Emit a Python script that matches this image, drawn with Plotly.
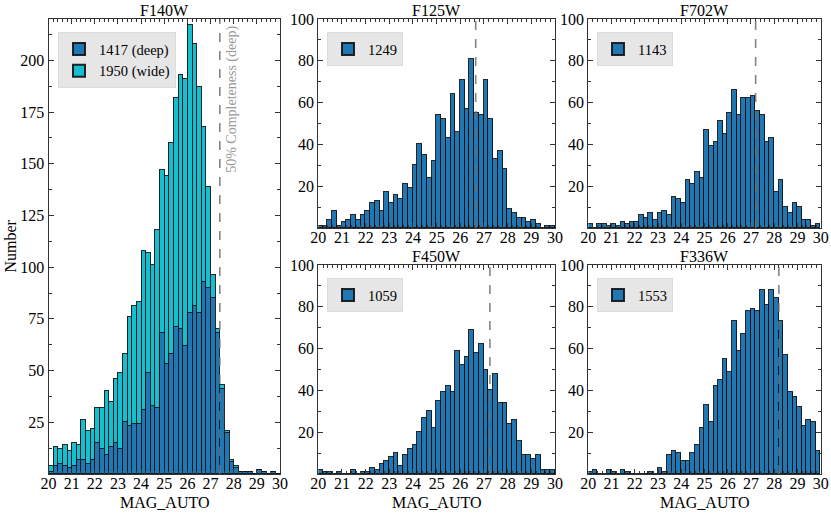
import plotly.graph_objects as go

# ---------------- data ----------------
BIN_START = 20.0
BIN_WIDTH = 0.2

f140w_deep = [1, 4, 5, 4, 3, 4, 7, 7, 5, 7,
              15, 12, 9, 13, 15, 12, 25, 23, 24, 24,
              31, 49, 33, 32, 68, 53, 58, 71, 70, 62,
              78, 81, 78, 93, 90, 85, 68, 41, 20, 6,
              3, 1, 1, 1, 0, 2, 1, 0, 1, 0]
f140w_wide = [3, 9, 7, 10, 8, 11, 7, 19, 16, 15,
              17, 20, 31, 22, 31, 37, 33, 53, 57, 59,
              77, 58, 68, 86, 79, 91, 102, 111, 123, 129,
              139, 127, 109, 75, 49, 11, 2, 2, 1, 1,
              1, 0, 0, 0, 0, 0, 0, 0, 0, 0]
f125w = [1, 1, 4, 8, 1, 3, 4, 6, 4, 6,
         8, 12, 13, 8, 17, 12, 16, 14, 21, 19,
         30, 40, 35, 24, 32, 54, 52, 43, 64, 46,
         71, 57, 81, 55, 54, 71, 52, 33, 37, 28,
         9, 7, 5, 5, 3, 4, 2, 0, 1, 1]
f702w = [2, 0, 2, 2, 1, 2, 1, 3, 2, 3,
         3, 6, 5, 7, 4, 7, 8, 6, 15, 14,
         12, 23, 21, 27, 24, 47, 39, 41, 51, 45,
         55, 66, 54, 62, 62, 63, 56, 54, 41, 43,
         17, 23, 10, 7, 12, 10, 4, 4, 1, 2]
f450w = [2, 1, 1, 0, 1, 0, 0, 2, 0, 1,
         1, 3, 2, 5, 6, 8, 10, 4, 9, 12,
         14, 20, 27, 30, 22, 35, 39, 42, 39, 59,
         52, 56, 69, 58, 62, 50, 40, 48, 34, 34,
         24, 26, 16, 9, 9, 7, 9, 2, 2, 2]
f336w = [1, 2, 0, 0, 2, 1, 0, 2, 1, 0,
         0, 0, 0, 1, 0, 3, 1, 9, 11, 10,
         6, 6, 10, 14, 22, 33, 25, 42, 45, 55,
         49, 73, 59, 67, 78, 79, 78, 88, 81, 88,
         84, 73, 57, 39, 37, 32, 23, 26, 25, 11]

labels = {"F140W_deep": "1417 (deep)", "F140W_wide": "1950 (wide)",
          "F125W": "1249", "F702W": "1143", "F450W": "1059", "F336W": "1553"}
completeness = {"F140W": 27.4, "F125W": 26.65, "F702W": 27.2, "F450W": 27.25, "F336W": 28.2}
x_ticks = list(range(20, 31))
y_ticks_big = [25, 50, 75, 100, 125, 150, 175, 200]
y_ticks_small = [20, 40, 60, 80, 100]

# ---------------- styling ----------------
DEEP = "#1f77b4"
WIDE = "#17becf"
EDGE = "rgba(15,15,15,0.9)"
FONT = "Liberation Serif"
W, H = 831, 514

centers = [BIN_START + BIN_WIDTH * (i + 0.5) for i in range(len(f125w))]


def px_x(a, b):
    return [a / W, b / W]


def px_y(top, bottom):
    return [1 - bottom / H, 1 - top / H]


fig = go.Figure()


def bar(y, name, color, xa, ya, legend):
    return go.Bar(x=centers, y=y, width=BIN_WIDTH, name=name,
                  marker=dict(color=color, line=dict(color=EDGE, width=1)),
                  xaxis=xa, yaxis=ya, legend=legend, showlegend=True)


fig.add_trace(bar(f140w_deep, labels["F140W_deep"], DEEP, "x", "y", "legend"))
fig.add_trace(bar(f140w_wide, labels["F140W_wide"], WIDE, "x", "y", "legend"))
fig.add_trace(bar(f125w, labels["F125W"], DEEP, "x2", "y2", "legend2"))
fig.add_trace(bar(f702w, labels["F702W"], DEEP, "x3", "y3", "legend3"))
fig.add_trace(bar(f450w, labels["F450W"], DEEP, "x4", "y4", "legend4"))
fig.add_trace(bar(f336w, labels["F336W"], DEEP, "x5", "y5", "legend5"))

axis_common = dict(showline=True, linecolor="#333333", linewidth=1, mirror="allticks",
                   ticks="inside", ticklen=5, tickwidth=1, tickcolor="#333333",
                   showgrid=False, zeroline=False, automargin=False,
                   tickfont=dict(family=FONT, size=16, color="black"))


def xaxis(domain, anchor):
    return dict(axis_common, domain=domain, anchor=anchor, range=[20, 30],
                tickvals=x_ticks, ticktext=[str(t) for t in x_ticks],
                ticklabelstandoff=-5,
                minor=dict(ticks="inside", ticklen=3, tickcolor="#333333", dtick=BIN_WIDTH,
                           tick0=BIN_START, showgrid=False))


def yaxis(domain, anchor, rng, ticks, minor_dtick):
    return dict(axis_common, domain=domain, anchor=anchor, range=rng, tickvals=ticks,
                minor=dict(ticks="inside", ticklen=3, tickcolor="#333333", dtick=minor_dtick,
                           tick0=0, showgrid=False))


dom = {
    "x": px_x(48.5, 280), "y": px_y(19, 474),
    "x2": px_x(318.3, 555), "y2": px_y(19, 228),
    "x3": px_x(588.3, 820.7), "y3": px_y(19, 228),
    "x4": px_x(318.3, 555), "y4": px_y(265, 474),
    "x5": px_x(588.3, 820.7), "y5": px_y(265, 474),
}

fig.update_layout(
    xaxis=xaxis(dom["x"], "y"),
    yaxis=yaxis(dom["y"], "x", [0, 220], y_ticks_big, 12.5),
    xaxis2=xaxis(dom["x2"], "y2"),
    yaxis2=yaxis(dom["y2"], "x2", [0, 100], y_ticks_small, 10),
    xaxis3=xaxis(dom["x3"], "y3"),
    yaxis3=yaxis(dom["y3"], "x3", [0, 100], y_ticks_small, 10),
    xaxis4=xaxis(dom["x4"], "y4"),
    yaxis4=yaxis(dom["y4"], "x4", [0, 100], y_ticks_small, 10),
    xaxis5=xaxis(dom["x5"], "y5"),
    yaxis5=yaxis(dom["y5"], "x5", [0, 100], y_ticks_small, 10),
)

leg_common = dict(bgcolor="#e6e6e6", bordercolor="#dcdcdc", borderwidth=1,
                  font=dict(family=FONT, size=14.5, color="black"),
                  xanchor="left", yanchor="top", traceorder="normal",
                  itemsizing="constant", tracegroupgap=0)
fig.update_layout(
    legend=dict(leg_common, x=58 / W, y=1 - 32 / H),
    legend2=dict(leg_common, x=327 / W, y=1 - 32 / H),
    legend3=dict(leg_common, x=597 / W, y=1 - 32 / H),
    legend4=dict(leg_common, x=327 / W, y=1 - 278 / H),
    legend5=dict(leg_common, x=597 / W, y=1 - 278 / H),
)

# completeness lines
for (key, xa, ya) in [("F140W", "x", "y"), ("F125W", "x2", "y2"), ("F702W", "x3", "y3"),
                      ("F450W", "x4", "y4"), ("F336W", "x5", "y5")]:
    fig.add_shape(type="line", x0=completeness[key], x1=completeness[key], y0=0, y1=1,
                  xref=xa, yref=ya + " domain",
                  line=dict(color="rgba(110,110,110,0.85)", width=1.6, dash="dash"))

fig.add_annotation(text="50% Completeness (deep)", textangle=-90, x=completeness["F140W"],
                   xshift=12, y=0.99, xref="x", yref="y domain", xanchor="center",
                   yanchor="top", showarrow=False,
                   font=dict(family=FONT, size=14, color="#999999"))

# panel titles
titles = [("F140W", "x", dom["y"]), ("F125W", "x2", dom["y2"]), ("F702W", "x3", dom["y3"]),
          ("F450W", "x4", dom["y4"]), ("F336W", "x5", dom["y5"])]
for text, xa, yd in titles:
    fig.add_annotation(text=text, x=0.5, xref=xa + " domain", y=yd[1], yref="paper",
                       yanchor="bottom", yshift=-2, showarrow=False,
                       font=dict(family=FONT, size=16, color="black"))

# axis titles
for xa in ["x", "x4", "x5"]:
    fig.add_annotation(text="MAG_AUTO", x=0.5, xref=xa + " domain", y=1 - 502 / H,
                       yref="paper", yanchor="middle", showarrow=False,
                       font=dict(family=FONT, size=16, color="black"))
fig.add_annotation(text="Number", textangle=-90, x=10 / W, xref="paper",
                   y=sum(dom["y"]) / 2, yref="paper", xanchor="center", yanchor="middle",
                   showarrow=False, font=dict(family=FONT, size=16, color="black"))

fig.update_layout(width=W, height=H, margin=dict(l=0, r=0, t=0, b=0),
                  barmode="stack", bargap=0, plot_bgcolor="white", paper_bgcolor="white")

fig.write_html("out.html", config={"displayModeBar": False},
               post_script="document.body.style.margin='0';document.body.style.padding='0';")
